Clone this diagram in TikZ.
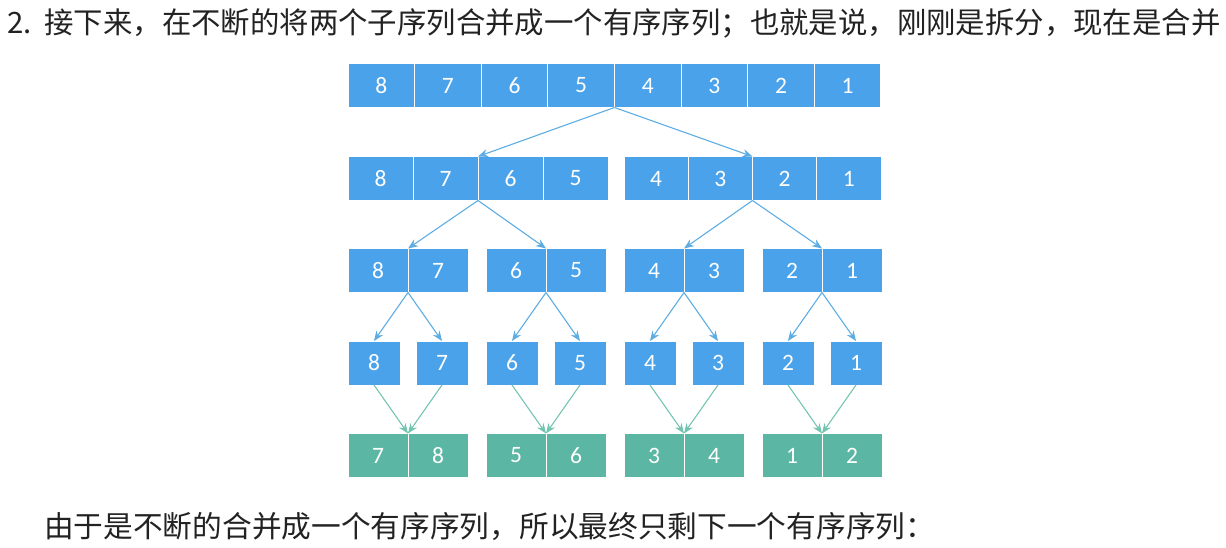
\documentclass[tikz,border=0pt]{standalone}
\usepackage{fontspec}
\setmainfont{Carlito}
\newfontfamily\cjk{Noto Sans CJK SC}
\usetikzlibrary{arrows.meta}
\definecolor{cellblue}{HTML}{4AA2EB}
\definecolor{cellgreen}{HTML}{5BB6A3}
\definecolor{lineblue}{HTML}{5DADE4}
\definecolor{linegreen}{HTML}{74C4B2}
\definecolor{textgray}{HTML}{222222}
\tikzset{
  cell/.style={fill=cellblue, draw=white, line width=1pt, text=white, minimum height=44pt,
    inner sep=0pt, outer sep=0pt, font=\fontsize{23.5}{24}\selectfont},
  sorted/.style={cell, fill=cellgreen},
  split/.style={draw=lineblue, line width=1.1pt, -{Stealth[length=10pt,width=8pt]}},
  merge/.style={split, draw=linegreen},
  caption/.style={anchor=west, inner sep=0pt, text=textgray},
}

\begin{document}
\begin{tikzpicture}[x=1pt,y=-1pt]
	\useasboundingbox (0,0) rectangle (1226,548);
	\node[caption, font=\cjk\fontsize{29.4}{30}\selectfont] (title) at (7,23) {2.\hspace{4pt} 接下来，在不断的将两个子序列合并成一个有序序列；也就是说，刚刚是拆分，现在是合并};
	% row 1: the whole sequence
	\foreach \n [count=\i] in {8,7,6,5,4,3,2,1}
		\node[cell, minimum width=66.6pt] (r1c\i) at ({348+66.625*(\i-0.5)},85.5) {\n};
	% row 2: two halves
	\foreach \n [count=\i] in {8,7,6,5}
		\node[cell, minimum width=65pt] (r2c\i) at ({348+65*(\i-0.5)},178.5) {\n};
	\foreach \n [count=\i from 5] in {4,3,2,1}
		\node[cell, minimum width=64.25pt] (r2c\i) at ({624+64.25*(\i-4.5)},178.5) {\n};
	% row 3: pairs
	\foreach \n [count=\i] in {8,7,6,5,4,3,2,1}
		\node[cell, minimum width=60pt] (r3c\i) at ({348+138*int((\i-1)/2)+30+60*mod(\i-1,2)},270.5) {\n};
	% row 4: single elements
	\foreach \n [count=\i] in {8,7,6,5,4,3,2,1}
		\node[cell, minimum width=52pt] (r4c\i) at ({348+138*int((\i-1)/2)+26+68*mod(\i-1,2)},363) {\n};
	% row 5: merged pairs
	\foreach \n [count=\i] in {7,8,5,6,3,4,1,2}
		\node[sorted, minimum width=60pt] (r5c\i) at ({348+138*int((\i-1)/2)+30+60*mod(\i-1,2)},455.5) {\n};
	\draw[split] (r1c4.south east) -- (r2c2.north east);
	\draw[split] (r1c4.south east) -- (r2c6.north east);
	\draw[split] (r2c2.south east) -- (r3c1.north east);
	\draw[split] (r2c2.south east) -- (r3c3.north east);
	\draw[split] (r2c6.south east) -- (r3c5.north east);
	\draw[split] (r2c6.south east) -- (r3c7.north east);
	\foreach \j [evaluate=\j as \k using int(\j+1)] in {1,3,5,7} {
		\draw[split] (r3c\j.south east) -- (r4c\j.north);
		\draw[split] (r3c\j.south east) -- (r4c\k.north);
		\draw[merge] (r4c\j.south) -- (r5c\j.north east);
		\draw[merge] (r4c\k.south) -- (r5c\j.north east);
	}
	\node[caption, font=\cjk\fontsize{29.7}{30}\selectfont] (note) at (44,527) {由于是不断的合并成一个有序序列，所以最终只剩下一个有序序列：};
\end{tikzpicture}
\end{document}
